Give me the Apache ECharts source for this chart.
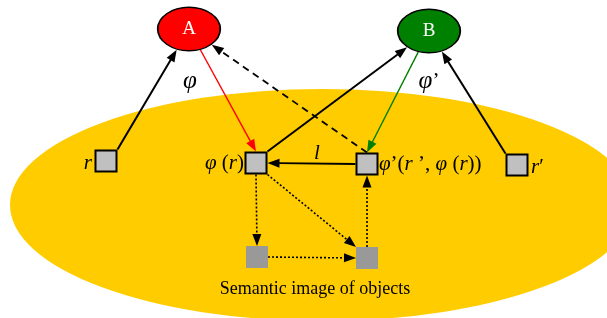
<!DOCTYPE html>
<html>
<head>
<meta charset="utf-8">
<script src="https://cdn.jsdelivr.net/npm/echarts@6/dist/echarts.min.js"></script>
<style>
  html, body { margin: 0; padding: 0; background: #fff; }
  #myChart { width: 607px; height: 318px; }
</style>
</head>
<body>
<div id="myChart"></div>
<script>
// nodes of the diagram (x, y in picture units, y grows downwards)
const nodeNames = ['A', 'B', 'r', 'phi', 'phi2', 'r2', 'low1', 'low2'];
const nodeX = [189, 429, 106, 256, 367, 517, 257, 367];
const nodeY = [29, 31, 161, 163, 164, 165, 257, 258];
const nodeKind = ['ellipse', 'ellipse', 'box', 'box', 'box', 'box', 'solid', 'solid'];
const nodeText = ['A', 'B', '', '', '', '', '', ''];

// arrows
const edgeFrom = ['r', 'A', 'phi2', 'phi', 'B', 'r2', 'phi2', 'phi', 'phi', 'low1', 'low2'];
const edgeTo = ['A', 'phi', 'A', 'B', 'phi2', 'B', 'phi', 'low1', 'low2', 'low2', 'phi2'];
const edgeFromPort = ['ne', '', 'n', 'ne', '', 'nw', 'w', 's', 'se', 'e', 'n'];
const edgeToPort = ['', 'n', '', '', 'n', '', 'e', 'n', 'nw', 'w', 's'];
const edgeKind = ['plain', 'red', 'dashed', 'plain', 'green', 'plain', 'plain', 'dotted', 'dotted', 'dotted', 'dotted'];

// free texts
const labelText = ['{g|φ}', '{g|φ}’', '{i|r}', '{i|φ} ({i|r})', '{i|φ}’({i|r} ’, {i|φ} ({i|r}))', '{i|r}′', '{i|l}', '{c|Semantic image of objects}'];
const labelX = [190, 429, 92, 244, 379, 531, 317, 315];
const labelY = [81, 81, 163, 163, 164, 167, 153, 289];
const labelAlign = ['center', 'center', 'right', 'right', 'left', 'left', 'center', 'center'];

const FONT = 'Liberation Serif';
const ELL = [32, 22.5];

const edgeStyle = {
    plain: { color: '#000', width: 2, dash: null },
    red: { color: '#ff0000', width: 1.4, dash: null },
    green: { color: '#008000', width: 1.4, dash: null },
    dashed: { color: '#000', width: 1.8, dash: [7, 5] },
    dotted: { color: '#000', width: 1.6, dash: [2, 2] }
};

function idx(name) { return nodeNames.indexOf(name); }
function half(i) { return nodeKind[i] === 'box' ? 11.5 : 11; }

function portPoint(i, port) {
    const m = { n: [0, -1], s: [0, 1], e: [1, 0], w: [-1, 0], ne: [1, -1], nw: [-1, -1], se: [1, 1], sw: [-1, 1] }[port];
    return [nodeX[i] + m[0] * half(i), nodeY[i] + m[1] * half(i)];
}

function clipPoint(i, tx, ty) {
    const dx = tx - nodeX[i], dy = ty - nodeY[i];
    let s;
    if (nodeKind[i] === 'ellipse') {
        s = 1 / Math.sqrt(Math.pow(dx / ELL[0], 2) + Math.pow(dy / ELL[1], 2));
    } else {
        s = half(i) / Math.max(Math.abs(dx), Math.abs(dy));
    }
    return [nodeX[i] + dx * s, nodeY[i] + dy * s];
}

const edgeData = edgeFrom.map(function (f, k) {
    const a = idx(f), b = idx(edgeTo[k]);
    const pa = edgeFromPort[k] ? portPoint(a, edgeFromPort[k]) : null;
    const pb = edgeToPort[k] ? portPoint(b, edgeToPort[k]) : null;
    const start = pa || clipPoint(a, pb ? pb[0] : nodeX[b], pb ? pb[1] : nodeY[b]);
    const end = pb || clipPoint(b, start[0], start[1]);
    return [start[0], start[1], end[0], end[1]];
});

const nodeData = nodeNames.map(function (n, i) {
    const kind = nodeKind[i];
    let item = { value: [nodeX[i], nodeY[i]] };
    if (kind === 'ellipse') {
        item.symbol = 'circle';
        item.symbolSize = [ELL[0] * 2 - 1.5, ELL[1] * 2 - 1.5];
        item.itemStyle = { color: i === 0 ? '#ff0000' : '#008000', borderColor: '#000', borderWidth: 1.5, opacity: 1 };
        item.label = { show: true, formatter: nodeText[i] };
    } else if (kind === 'box') {
        item.symbol = 'rect';
        item.symbolSize = 21;
        item.itemStyle = { color: '#c0c0c0', borderColor: '#000', borderWidth: 2, opacity: 1 };
    } else {
        item.symbol = 'rect';
        item.symbolSize = 22;
        item.itemStyle = { color: '#999999', borderWidth: 0, opacity: 1 };
    }
    return item;
});

const textData = labelText.map(function (t, i) {
    return {
        value: [labelX[i], labelY[i]],
        label: { formatter: t, align: labelAlign[i] }
    };
});

let myChart = echarts.init(document.getElementById('myChart'));
myChart.setOption({
    animation: false,
    grid: { left: 0, right: 0, top: 0, bottom: 0 },
    xAxis: { type: 'value', min: 0, max: 607, show: false },
    yAxis: { type: 'value', min: 0, max: 318, inverse: true, show: false },
    series: [
        {
            // big yellow plane
            type: 'scatter',
            z: 1,
            silent: true,
            symbol: 'circle',
            symbolSize: [624, 232],
            itemStyle: { color: '#ffcc00', opacity: 1 },
            data: [[322, 205]]
        },
        {
            type: 'custom',
            z: 2,
            silent: true,
            data: edgeData,
            renderItem: function (params, api) {
                const p1 = api.coord([api.value(0), api.value(1)]);
                const p2 = api.coord([api.value(2), api.value(3)]);
                const st = edgeStyle[edgeKind[params.dataIndex]];
                const dx = p2[0] - p1[0], dy = p2[1] - p1[1];
                const len = Math.sqrt(dx * dx + dy * dy);
                const ux = dx / len, uy = dy / len;
                const L = 12, W = 9;
                const bx = p2[0] - ux * L, by = p2[1] - uy * L;
                return {
                    type: 'group',
                    children: [
                        {
                            type: 'line',
                            shape: { x1: p1[0], y1: p1[1], x2: bx + ux * 1, y2: by + uy * 1 },
                            style: { stroke: st.color, lineWidth: st.width, lineDash: st.dash }
                        },
                        {
                            type: 'polygon',
                            shape: { points: [[p2[0], p2[1]], [bx - uy * W / 2, by + ux * W / 2], [bx + uy * W / 2, by - ux * W / 2]] },
                            style: { fill: st.color }
                        }
                    ]
                };
            }
        },
        {
            type: 'scatter',
            z: 3,
            silent: true,
            label: {
                position: 'inside',
                color: '#fff',
                fontFamily: FONT,
                fontSize: 19
            },
            data: nodeData
        },
        {
            type: 'scatter',
            z: 4,
            silent: true,
            symbolSize: 1,
            itemStyle: { color: 'transparent', opacity: 1 },
            label: {
                show: true,
                position: 'inside',
                verticalAlign: 'middle',
                color: '#000',
                fontFamily: FONT,
                fontSize: 21,
                rich: {
                    i: { fontStyle: 'italic', fontFamily: FONT, fontSize: 21, color: '#000' },
                    g: { fontStyle: 'italic', fontFamily: FONT, fontSize: 25, color: '#000' },
                    c: { fontFamily: FONT, fontSize: 18, color: '#000' }
                }
            },
            data: textData
        }
    ]
});
</script>
</body>
</html>
